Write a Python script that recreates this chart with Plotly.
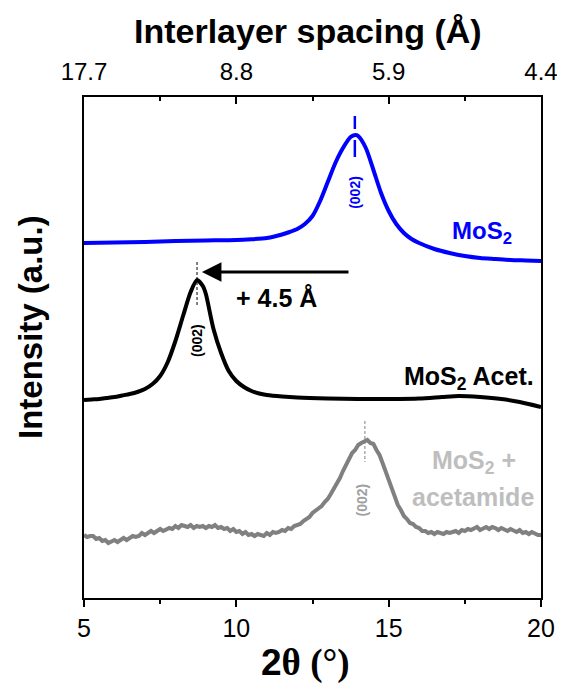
import plotly.graph_objects as go

# ---------------- data (2θ in degrees, intensity in stacked arbitrary units) -------------
two_theta_mos2 = [5.0, 6.0, 7.0, 8.0, 9.0, 10.0, 10.5, 11.0, 11.25, 11.5, 11.75, 12.0, 12.25,
                  12.5, 12.75, 13.0, 13.25, 13.5, 13.75, 13.9, 14.0, 14.25, 14.5, 14.75,
                  15.0, 15.25, 15.5, 15.75, 16.0, 16.5, 17.0, 17.5, 18.0, 18.5, 19.0, 19.5, 20.0]
int_mos2 = [355, 355.5, 356, 357, 357.5, 358, 358.8, 360, 361.5, 363.5, 366, 369, 374,
            382, 397, 416, 435, 450, 461, 463, 462, 450, 428, 405,
            387, 374, 365, 359, 355, 349, 345, 342, 340, 339, 338, 337.5, 337]

two_theta_acet = [5.0, 5.25, 5.5, 5.75, 6.0, 6.25, 6.5, 6.75, 7.0, 7.25, 7.5, 7.75, 8.0,
                  8.25, 8.5, 8.71, 8.9, 9.0, 9.25, 9.5, 9.75, 10.0, 10.25, 10.5, 10.75,
                  11.0, 11.5, 12.0, 13.0, 14.0, 15.0, 16.0, 16.75, 17.3, 18.0, 18.7,
                  19.3, 20.0]
int_acet = [198, 198.5, 199, 200, 201, 202.5, 204, 206, 209, 214, 222, 236, 257,
            282, 306, 318, 312, 304, 269, 245, 227, 217, 211, 207, 204.5,
            203, 201.5, 200.5, 199.5, 199, 199, 199.5, 201, 202, 201, 199,
            196, 191]

two_theta_mix = [round(5.0 + 0.1 * i, 1) for i in range(151)]
int_mix = [63, 61, 62, 62, 59, 60, 57, 58, 55, 57,
           58, 56, 58, 60, 58, 60, 62, 61, 62, 65,
           63, 65, 67, 65, 67, 69, 67, 69, 70, 69,
           72, 70, 73, 72, 71, 73, 70, 72, 71, 72,
           70, 72, 71, 73, 70, 71, 69, 70, 67, 69,
           66, 67, 64, 66, 63, 64, 62, 64, 63, 62,
           65, 63, 66, 65, 66, 68, 67, 70, 69, 72,
           73, 74, 77, 79, 81, 85, 87, 90, 92, 96,
           99, 104, 109, 115, 120, 127, 133, 138, 145, 148,
           153, 155, 157, 158, 155, 154, 148, 143, 135, 127,
           119, 109, 102, 93, 88, 82, 79, 75, 74, 71,
           70, 67, 67, 65, 66, 64, 66, 65, 64, 66,
           65, 66, 67, 65, 68, 67, 69, 68, 69, 71,
           68, 70, 71, 69, 71, 70, 68, 70, 69, 67,
           69, 67, 66, 68, 65, 66, 64, 66, 64, 63,
           63]

peak_mos2 = 13.89
peak_acet = 8.71
peak_mix = 14.22

bottom_ticks = [5, 10, 15, 20]
top_tick_labels = ["17.7", "8.8", "5.9", "4.4"]
minor_ticks = [7.5, 12.5, 17.5]

# ---------------- styling ----------------
FONT = "Arial, Liberation Sans, sans-serif"
BLUE = "#0000FF"
BLACK = "#000000"
GRAY = "#808080"
LIGHTGRAY = "#BEBEBE"

W, H = 565, 692
BODY = 8                      # default page margin of the html body
PX_L, PX_R = 84, 541          # frame in page pixels
PX_T, PX_B = 97, 598
L = PX_L - BODY
T = PX_T - BODY
R = W - L - (PX_R - PX_L)
B = H - T - (PX_B - PX_T)
Y_RANGE = [0, 501]


def paper(xp, yp):
    return (xp - PX_L) / (PX_R - PX_L), (PX_B - yp) / (PX_B - PX_T)


fig = go.Figure()

fig.add_trace(go.Scatter(x=two_theta_mos2, y=int_mos2, mode="lines",
                         line=dict(color=BLUE, width=4, shape="spline", smoothing=0.7),
                         showlegend=False, hoverinfo="skip"))
fig.add_trace(go.Scatter(x=two_theta_acet, y=int_acet, mode="lines",
                         line=dict(color=BLACK, width=4, shape="spline", smoothing=0.7),
                         showlegend=False, hoverinfo="skip"))
fig.add_trace(go.Scatter(x=two_theta_mix, y=int_mix, mode="lines",
                         line=dict(color=GRAY, width=4),
                         showlegend=False, hoverinfo="skip"))

# peak marker lines
fig.add_trace(go.Scatter(x=[peak_mos2, peak_mos2], y=[482, 441], mode="lines",
                         line=dict(color=BLUE, width=2.5, dash="13px,11px,17px,100px"),
                         showlegend=False, hoverinfo="skip"))
fig.add_trace(go.Scatter(x=[peak_acet, peak_acet], y=[336, 291], mode="lines",
                         line=dict(color=BLACK, width=1, dash="3px,2px"),
                         showlegend=False, hoverinfo="skip"))
fig.add_trace(go.Scatter(x=[peak_mix, peak_mix], y=[177, 136], mode="lines",
                         line=dict(color=GRAY, width=1, dash="3px,2px"),
                         showlegend=False, hoverinfo="skip"))

# anchor trace for the top axis
fig.add_trace(go.Scatter(x=[5, 20], y=[None, None], xaxis="x2", mode="lines",
                         showlegend=False, hoverinfo="skip"))

annotations = [
    dict(x=peak_acet + 0.16, y=326, ax=13.73, ay=326, xref="x", yref="y", axref="x", ayref="y",
         showarrow=True, arrowhead=2, arrowsize=1.3, arrowwidth=3, arrowcolor=BLACK, text=""),
    dict(x=11.33, y=300, xref="x", yref="y", text="<b>+ 4.5 Å</b>", showarrow=False,
         font=dict(family=FONT, size=25, color=BLACK)),
    dict(x=18.06, y=366, xref="x", yref="y", text="<b>MoS<sub>2</sub></b>", showarrow=False,
         font=dict(family=FONT, size=24, color=BLUE)),
    dict(x=19.82, y=220, xref="x", yref="y", xanchor="right",
         text="<b>MoS<sub>2</sub> Acet.</b>", showarrow=False,
         font=dict(family=FONT, size=25, color=BLACK)),
    dict(x=17.8, y=136, xref="x", yref="y", text="<b>MoS<sub>2</sub> +</b>",
         showarrow=False, font=dict(family=FONT, size=25, color=LIGHTGRAY)),
    dict(x=17.77, y=101, xref="x", yref="y", text="<b>acetamide</b>",
         showarrow=False, font=dict(family=FONT, size=25, color=LIGHTGRAY)),
    dict(x=peak_mos2, y=406, xref="x", yref="y", text="<b>(002)</b>", textangle=-90,
         showarrow=False, font=dict(family=FONT, size=14, color=BLUE)),
    dict(x=peak_acet, y=257, xref="x", yref="y", text="<b>(002)</b>", textangle=-90,
         showarrow=False, font=dict(family=FONT, size=14, color=BLACK)),
    dict(x=peak_mix - 0.08, y=98, xref="x", yref="y", text="<b>(002)</b>", textangle=-90,
         showarrow=False, font=dict(family=FONT, size=14, color="#A0A0A0")),
]

titles = [
    (30, 327, "<b>Intensity (a.u.)</b>", 33, -90),
    (308, 31, "<b>Interlayer spacing (Å)</b>", 34, 0),
    (305, 663, "<b>2<span style='font-family:Liberation Serif'>θ (°)</span></b>", 37, 0),
]
for xp, yp, txt, size, ang in titles:
    px, py = paper(xp, yp)
    annotations.append(dict(x=px, y=py, xref="paper", yref="paper", text=txt, textangle=ang,
                            showarrow=False, xanchor="center", yanchor="middle",
                            font=dict(family=FONT, size=size, color=BLACK)))

fig.update_layout(
    width=W, height=H,
    margin=dict(l=L, r=R, t=T, b=B, pad=0),
    plot_bgcolor="white", paper_bgcolor="white",
    font=dict(family=FONT, color=BLACK),
    annotations=annotations,
    xaxis=dict(range=[5, 20], tickvals=bottom_ticks, ticks="outside", ticklen=7, tickwidth=1.5,
               tickcolor=BLACK, showline=True, linecolor=BLACK, linewidth=1.5,
               showgrid=False, zeroline=False,
               minor=dict(tickvals=minor_ticks, ticks="outside", ticklen=4, tickwidth=1.5,
                          tickcolor=BLACK),
               tickfont=dict(family=FONT, size=25, color=BLACK)),
    xaxis2=dict(range=[5, 20], overlaying="x", side="top", anchor="y",
                tickvals=bottom_ticks, ticktext=top_tick_labels, ticks="inside", ticklen=7,
                tickwidth=1.5, tickcolor=BLACK, showline=True, linecolor=BLACK, linewidth=1.5,
                showgrid=False, zeroline=False,
                minor=dict(tickvals=minor_ticks, ticks="inside", ticklen=4, tickwidth=1.5,
                           tickcolor=BLACK),
                tickfont=dict(family=FONT, size=24, color=BLACK), ticklabelstandoff=6),
    yaxis=dict(range=Y_RANGE, showline=True, mirror=True, linecolor=BLACK, linewidth=1.5,
               ticks="", showticklabels=False, showgrid=False, zeroline=False),
)

fig.write_html("out.html")
